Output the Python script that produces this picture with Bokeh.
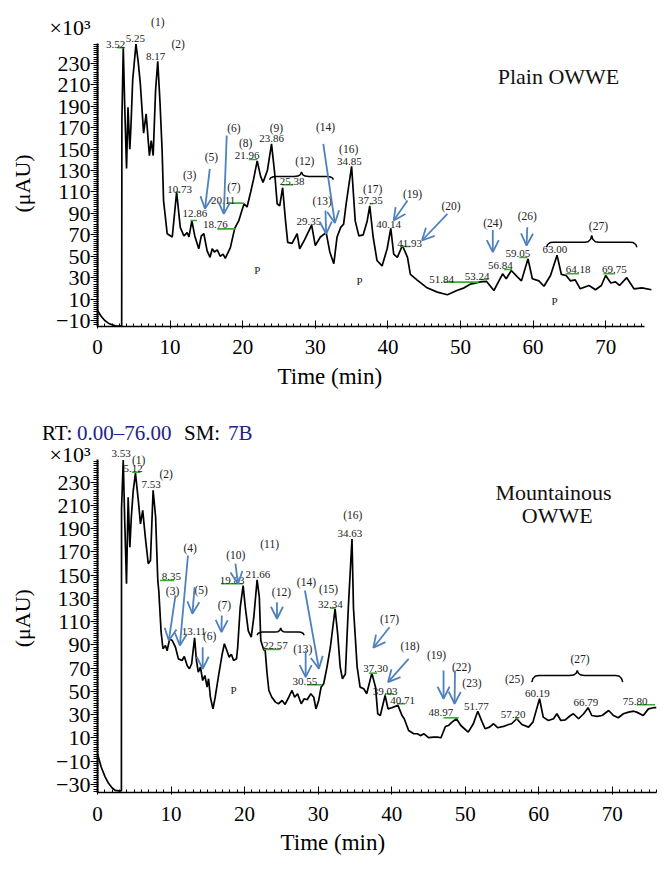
import numpy as np
from bokeh.plotting import figure
from bokeh.layouts import column
from bokeh.models import (Range1d, FixedTicker, Arrow, OpenHead, ColumnDataSource, LinearAxis, Div)
from bokeh.core.properties import value
from bokeh.embed import file_html
from bokeh.resources import INLINE

FONT = "Liberation Serif"
BLUE = "#4f81bd"
GREEN = "#3aaa35"
NAVY = "#22228b"

# ---------------- top panel data (Plain OWWE) ----------------
top_t = [0.0, 0.5, 1.0, 1.5, 2.0, 2.5, 3.0, 3.33, 3.36, 3.55, 3.75, 4.0, 4.2, 4.45, 4.6, 4.85, 5.3, 5.6,
         5.9, 6.35, 6.7, 7.15, 7.4, 7.67, 8.0, 8.3, 8.6, 8.9, 9.1, 9.6, 10.3, 10.9, 11.4, 11.9, 12.35,
         12.6, 13.0, 13.4, 13.95, 14.3, 14.65, 15.1, 15.5, 15.8, 16.1, 16.5, 16.9, 17.3, 17.6, 18.3,
         18.9, 19.45, 19.9, 20.2, 20.6, 21.1, 21.5, 22.0, 22.45, 22.8, 23.4, 23.97, 24.4, 24.75, 25.1,
         25.5, 25.9, 26.2, 26.8, 27.5, 27.85, 28.5, 29.5, 30.0, 30.7, 31.5, 32.0, 32.55, 33.0, 33.5,
         33.9, 34.25, 35.0, 35.5, 36.0, 36.6, 37.15, 37.5, 37.97, 38.5, 39.2, 39.9, 40.4, 40.8, 41.3,
         42.0, 42.7, 43.1, 44.0, 45.4, 46.8, 48.2, 49.5, 50.5, 51.4, 52.75, 53.6, 54.6, 55.3, 55.8,
         56.3, 57.0, 57.8, 58.4, 59.3, 59.9, 60.8, 61.5, 62.4, 63.3, 63.9, 64.55, 65.15, 65.8, 66.5,
         67.7, 68.6, 69.4, 70.0, 70.7, 71.35, 71.9, 72.9, 73.9, 75.0, 76.3]
top_y = [-0.7, -6, -10, -12.5, -14, -15, -15.2, -15.2, 177, 245, 190, 132, 189, 150, 170, 215, 248, 232,
         211, 165, 183, 144, 158, 144, 205, 232, 195, 149, 102, 71, 68, 110, 77, 69, 72,
         68, 83, 69, 57, 69, 71, 55, 49, 57, 54, 56, 50, 52, 48, 58,
         76, 83, 93, 99, 96, 110, 122, 139, 125, 119, 130, 155, 128, 99, 97,
         114, 83, 63, 62, 71, 57, 65, 79, 60, 68, 72, 54, 43, 68, 77,
         80, 99, 134, 83, 69, 70, 83, 97, 68, 46, 41, 57, 76, 52, 49,
         60, 49, 33, 28, 20.5, 16.5, 14, 18, 20.5, 24, 26, 26.5, 18, 27, 33.6,
         29, 36.7, 31, 27, 47.6, 29, 27, 22, 32, 51, 33, 32, 27, 28, 19.6,
         22.7, 18.7, 22.7, 32, 25, 26, 22.7, 30, 19.6, 20.5, 18.7]

top_rt_text = ["3.52", "5.25", "8.17", "10.73", "12.86", "18.76", "20.11", "21.96", "23.86", "25.38",
               "29.35", "34.85", "37.35", "40.14", "41.93", "51.84", "53.24", "56.84", "59.05", "63.00",
               "64.18", "69.75"]
top_rt_x = [2.48, 5.23, 7.99, 11.3, 13.4, 16.25, 17.3, 20.6, 23.97, 26.8,
            29.1, 34.7, 37.6, 40.1, 43.0, 47.4, 52.3, 55.5, 57.9, 63.0, 66.2, 71.2]
top_rt_y = [247.4, 253.6, 236.5, 112.3, 89.6, 79.6, 102, 143.7, 160.3, 119.8,
            82.7, 138.5, 102, 79.6, 62.2, 28.3, 31.4, 41.4, 52.3, 56.3, 37.3, 37.3]

top_id_text = ["(1)", "(2)", "(3)", "(5)", "(6)", "(7)", "(8)", "(9)", "(12)", "(13)", "(14)", "(16)",
               "(17)", "(19)", "(20)", "(24)", "(26)", "(27)"]
top_id_x = [8.3, 11.1, 12.7, 15.7, 18.8, 18.8, 20.4, 24.65, 28.55, 30.95, 31.4, 34.6,
            37.9, 43.4, 48.7, 54.45, 59.2, 69.0]
top_id_y = [268.6, 248.4, 126, 142.5, 169.6, 114.5, 156, 169.6, 139, 102, 170.6, 150,
            112.6, 108.3, 96.7, 81.2, 88, 78.1]

top_p_x = [22.0, 36.1, 62.95]
top_p_y = [36.7, 27.3, 8]

top_green_x0 = [2.75, 10.75, 12.8, 16.5, 17.9, 20.85, 25.4, 37.5, 41.7, 47.7, 52.75, 56.0, 58.1, 64.5, 69.7]
top_green_x1 = [3.7, 11.4, 13.7, 19.0, 20.15, 22.0, 27.0, 38.0, 43.1, 52.5, 53.7, 57.1, 59.2, 66.3, 71.3]
top_green_y = [244.8, 110, 83.4, 75.6, 99.6, 140.3, 116.7, 99, 59.1, 25.8, 28.3, 37.6, 48.8, 33.6, 33.6]

top_arrow_x0 = [15.47, 17.8, 31.1, 31.4, 42.7, 48.2, 54.45, 59.2]
top_arrow_y0 = [131.5, 162.7, 155, 92.7, 102, 89.6, 74.6, 77.1]
top_arrow_x1 = [14.8, 17.4, 32.7, 31.5, 40.8, 44.7, 54.45, 59.1]
top_arrow_y1 = [94.3, 89.6, 81, 71, 83.4, 64.7, 53.9, 60]

top_brace_x0 = [23.7, 61.85]
top_brace_x1 = [32.5, 74.3]
top_brace_y = [124.5, 63.1]
top_brace_tip = [4.0, 6.3]
top_brace_drop = [3.0, 4.7]

# ---------------- bottom panel data (Mountainous OWWE) ----------------
bot_t = [0.0, 0.5, 1.0, 1.5, 2.0, 2.4, 3.0, 3.25, 3.27, 3.5, 3.7, 3.94, 4.17, 4.4, 4.6, 4.85, 5.16, 5.6,
         5.84, 6.15, 6.5, 6.9, 7.2, 7.56, 7.9, 8.2, 8.33, 8.65, 8.9, 9.24, 9.47, 9.8, 10.15, 10.6, 11.0,
         11.5, 11.8, 12.2, 12.5, 12.8, 13.2, 13.45, 13.7, 14.0, 14.3, 14.6, 14.9, 15.1, 15.35, 15.7,
         16.0, 16.5, 16.95, 17.25, 17.6, 17.9, 18.2, 18.5, 18.9, 19.06, 19.4, 19.8, 20.1, 20.5, 20.9,
         21.25, 21.7, 22.0, 22.2, 22.6, 22.8, 23.06, 23.3, 23.7, 24.2, 24.6, 25.1, 25.5, 26.0, 26.45,
         26.8, 27.2, 27.7, 28.1, 28.5, 29.0, 29.4, 29.7, 30.07, 30.4, 30.75, 31.2, 31.66, 32.3, 32.65,
         33.0, 33.3, 33.7, 34.1, 34.6, 34.8, 35.3, 35.7, 36.2, 36.6, 37.3, 37.8, 38.1, 38.45, 39.1,
         39.5, 40.0, 40.85, 41.4, 41.7, 42.3, 43.0, 43.5, 43.9, 44.4, 45.0, 45.7, 46.2, 46.7, 47.3,
         47.7, 48.2, 48.8, 49.4, 50.4, 51.1, 51.7, 52.3, 52.7, 53.3, 53.85, 54.4, 55.2, 55.9, 56.3,
         57.0, 57.7, 58.6, 59.2, 60.1, 60.6, 61.3, 62.0, 62.45, 63.0, 63.6, 64.3, 64.7, 65.4, 66.1,
         66.7, 67.2, 67.9, 68.6, 69.5, 70.15, 70.8, 71.5, 72.2, 72.9, 73.3, 74.2, 74.9, 75.6, 76.0]
bot_y = [-3.6, -15, -23, -29, -33, -35, -35.5, -35.5, 207, 249, 197, 142.6, 217, 174, 200, 222, 237.7, 211,
         194, 205.6, 182.6, 159.8, 162.6, 223, 200, 145, 136.8, 101, 86.7, 89.5, 85, 95, 93.8, 88, 78,
         76.6, 80, 72, 69.5, 73.8, 96, 76.6, 66.6, 70.9, 59.4, 63.7, 53.7, 60.9, 45, 35,
         45, 65, 82, 91, 85, 79.5, 82, 76.6, 78, 88, 122, 141, 122, 102, 96.7,
         113.8, 146, 131, 93.8, 85.8, 85, 65, 50.8, 45, 40.8, 39.4, 42.2, 38.8, 45, 50.8,
         45, 48, 39.4, 43.7, 42.8, 48, 45, 35, 42.2, 53.7, 56.6, 70.9, 88, 121, 99.6,
         70.9, 60.9, 65, 122, 181, 122, 71, 53.7, 52.3, 48, 65.7, 53.7, 30.8, 29.3, 46.5,
         35, 36, 38, 29.3, 26.5, 16.4, 13.6, 13.6, 12, 13.6, 10.2, 10.7, 10.7, 10.2, 19.9,
         20.7, 23.6, 26.5, 20.7, 15, 22.2, 33, 23.6, 17.9, 19.3, 22.2, 18.8, 19.9, 21.6, 22.2,
         26.5, 21.6, 19.3, 23.6, 43.7, 27.9, 25, 26.5, 30.8, 25, 25.6, 29.3, 30.8, 26.5, 30.8,
         36, 29.3, 28.5, 29.3, 33.6, 29.3, 27.4, 30.8, 32.2, 33, 32.2, 29.3, 35, 36, 36]

bot_rt_text = ["3.53", "5.12", "7.53", "8.35", "13.11", "19.83", "21.66", "22.57", "30.55", "32.34",
               "34.63", "37.30", "39.03", "40.71", "48.97", "51.77", "57.20", "60.19", "66.79", "75.80"]
bot_rt_x = [3.2, 4.85, 7.3, 10.05, 13.1, 18.3, 21.8, 24.2, 28.2, 31.65,
            34.3, 37.8, 39.1, 41.5, 46.7, 51.5, 56.5, 59.8, 66.4, 73.1]
bot_rt_y = [254.4, 242, 227.7, 149, 101.6, 145.4, 150.6, 89.5, 58.8, 124.5,
            186, 69.5, 50.2, 42.2, 31.7, 37, 30, 48.5, 40.2, 41.4]

bot_id_text = ["(1)", "(2)", "(3)", "(4)", "(5)", "(6)", "(7)", "(10)", "(11)", "(12)", "(13)", "(14)",
               "(15)", "(16)", "(17)", "(18)", "(19)", "(22)", "(23)", "(25)", "(27)"]
bot_id_x = [5.6, 9.33, 10.2, 12.6, 14.1, 15.26, 17.25, 18.8, 23.4, 25.0, 27.9, 28.4,
            31.4, 34.7, 39.7, 42.5, 46.1, 49.5, 50.9, 56.7, 65.6]
bot_id_y = [248.6, 237, 136.2, 173.5, 136.8, 98, 124, 167.3, 177, 135.3, 86.7, 144.5,
            138.3, 202, 111.9, 88.9, 81.5, 70.9, 57.4, 60.3, 77.5]

bot_p_x = [18.5]
bot_p_y = [50.8]

bot_green_x0 = [4.7, 8.5, 16.8, 22.6, 28.5, 31.65, 36.9, 39.1, 40.7, 47.05, 56.8, 73.3]
bot_green_x1 = [5.85, 10.4, 19.8, 24.9, 30.5, 32.3, 38.0, 40.3, 41.85, 49.1, 57.25, 75.8]
bot_green_y = [238.5, 145.4, 142.6, 86.1, 55.7, 121.6, 65.7, 48, 39.4, 27.3, 26.5, 38.5]

bot_arrow_x0 = [10.6, 12.3, 13.2, 14.3, 16.9, 18.75, 24.4, 28.3, 28.2, 39.7, 42.3, 47.05, 48.6]
bot_arrow_y0 = [132.5, 166.9, 139.7, 88, 115.3, 159.8, 126.7, 85.2, 136.8, 105.2, 78, 68, 68]
bot_arrow_x1 = [9.7, 11.2, 12.9, 14.3, 16.85, 19.1, 24.4, 28.3, 30.1, 37.5, 39.5, 47.05, 48.55]
bot_arrow_y1 = [93.8, 89.5, 116.8, 69.5, 101, 142.6, 112.5, 62.3, 69.5, 87.5, 58, 43.7, 39.4]

bot_brace_x0 = [21.7, 59.05]
bot_brace_x1 = [28.1, 71.4]
bot_brace_y = [101, 63.7]
bot_brace_tip = [3.5, 4.3]
bot_brace_drop = [2.7, 5.7]

y_ticks_top = [-10, 10, 30, 50, 70, 90, 110, 130, 150, 170, 190, 210, 230]
y_ticks_bot = [-30, -10, 10, 30, 50, 70, 90, 110, 130, 150, 170, 190, 210, 230]
x_ticks = [0, 10, 20, 30, 40, 50, 60, 70]

rt_parts = ["RT:", "0.00\u201376.00", "SM:", "7B"]
rt_colors = ["black", NAVY, "black", NAVY]
rt_left = [42, 77, 184, 228]


def brace_path(x0, x1, y, tip, drop):
    e = min(1.0, (x1 - x0) / 8)
    xm = (x0 + x1) / 2
    xs = [x0, x0 + 0.15 * e, x0 + 0.5 * e, x0 + e, xm - e, xm - 0.5 * e, xm - 0.15 * e, xm,
          xm + 0.15 * e, xm + 0.5 * e, xm + e, x1 - e, x1 - 0.5 * e, x1 - 0.15 * e, x1]
    ys = [y - drop, y - 0.45 * drop, y - 0.08 * drop, y, y, y + 0.08 * tip, y + 0.45 * tip, y + tip,
          y + 0.45 * tip, y + 0.08 * tip, y, y, y - 0.08 * drop, y - 0.45 * drop, y - drop]
    return xs, ys


def blank_axis(ax):
    ax.axis_line_color = None
    ax.major_tick_line_color = None
    ax.minor_tick_line_color = None
    ax.major_tick_in = 0
    ax.major_tick_out = 0
    ax.minor_tick_in = 0
    ax.minor_tick_out = 0


def style(p, yticks, ylo, yhi, xhi, x_standoff, x10_tick, mu_tick, time_tick, time_standoff):
    p.xgrid.visible = False
    p.ygrid.visible = False
    p.outline_line_color = None
    p.background_fill_color = "white"
    p.border_fill_color = "white"
    ax = p.xaxis[0]
    ax.ticker = FixedTicker(ticks=x_ticks, minor_ticks=list(range(0, int(xhi) + 1)))
    ax.bounds = (0, xhi)
    ax.major_tick_in = 6
    ax.major_tick_out = 2
    ax.minor_tick_in = 3
    ax.minor_tick_out = 0
    ax.axis_line_width = 1.5
    ax.major_label_standoff = x_standoff
    ax.major_label_text_font = FONT
    ax.major_label_text_font_size = "21px"
    ax.major_label_text_color = "black"

    # y axis: line and ticks only
    ay = p.yaxis[0]
    ay.ticker = FixedTicker(ticks=yticks, minor_ticks=list(range(int(np.floor(ylo / 2) * 2), int(yhi) + 1, 2)))
    ay.bounds = (ylo, yhi)
    ay.major_tick_in = 0
    ay.major_tick_out = 7
    ay.minor_tick_in = 1
    ay.minor_tick_out = 4
    ay.axis_line_width = 2
    ay.major_label_standoff = 0
    ay.major_label_overrides = {t: "" for t in yticks}

    # y tick labels plus the x10^3 multiplier, on a bare axis just outside the ticks
    lab_ticks = yticks + [x10_tick]
    al = LinearAxis(ticker=FixedTicker(ticks=lab_ticks, minor_ticks=[]), bounds=(ylo, x10_tick + 6))
    blank_axis(al)
    al.major_label_standoff = 0
    ov = {t: ("\u2212" + str(-t) if t < 0 else str(t)) for t in yticks}
    ov[x10_tick] = "\u00d710\u00b3"
    al.major_label_overrides = ov
    al.major_label_text_font = FONT
    al.major_label_text_font_size = "22px"
    al.major_label_text_color = "black"
    p.add_layout(al, "left")

    # y title as a rotated label
    amu = LinearAxis(ticker=FixedTicker(ticks=[mu_tick], minor_ticks=[]), bounds=(mu_tick - 10, mu_tick + 10))
    blank_axis(amu)
    amu.major_label_overrides = {mu_tick: "(\u03bcAU)"}
    amu.major_label_orientation = "vertical"
    amu.major_label_standoff = 11
    amu.major_label_text_font = FONT
    amu.major_label_text_font_size = "22px"
    amu.major_label_text_color = "black"
    p.add_layout(amu, "left")

    # x title
    atime = LinearAxis(ticker=FixedTicker(ticks=[time_tick], minor_ticks=[]), bounds=(time_tick - 5, time_tick + 5))
    blank_axis(atime)
    atime.major_label_overrides = {time_tick: "Time (min)"}
    atime.major_label_standoff = time_standoff
    atime.major_label_text_font = FONT
    atime.major_label_text_font_size = "23px"
    atime.major_label_text_color = "black"
    p.add_layout(atime, "below")


def annotate(p, rt_x, rt_y, rt_text, id_x, id_y, id_text, p_x, p_y, gx0, gx1, gy,
             ax0, ay0, ax1, ay1, bx0, bx1, by, btip, bdrop):
    p.segment(x0=gx0, y0=gy, x1=gx1, y1=gy, line_color=GREEN, line_width=1.6)
    p.text(x=rt_x, y=rt_y, text=rt_text, text_font=value(FONT), text_font_size="11px",
           text_align="center", text_baseline="middle", text_color="#222222")
    p.text(x=id_x, y=id_y, text=id_text, text_font=value(FONT), text_font_size="11.5px",
           text_align="center", text_baseline="middle", text_color="#222222")
    p.text(x=p_x, y=p_y, text=["P"] * len(p_x), text_font=value(FONT), text_font_size="11px",
           text_align="center", text_baseline="middle", text_color="#222222")
    src = ColumnDataSource(dict(x0=ax0, y0=ay0, x1=ax1, y1=ay1))
    p.add_layout(Arrow(end=OpenHead(size=12, line_color=BLUE, line_width=1.8), source=src,
                       x_start="x0", y_start="y0", x_end="x1", y_end="y1",
                       line_color=BLUE, line_width=1.8))
    bxs, bys = [], []
    for a, b, c, d, e in zip(bx0, bx1, by, btip, bdrop):
        xs, ys = brace_path(a, b, c, d, e)
        bxs.append(xs)
        bys.append(ys)
    p.multi_line(xs=bxs, ys=bys, line_color="black", line_width=1.5)


# ---------------- top figure ----------------
top = figure(width=671, height=412, x_range=Range1d(0, 77.0), y_range=Range1d(-15.6, 277.6),
             output_backend="svg", toolbar_location=None,
             min_border_left=97, min_border_right=15, min_border_top=12, min_border_bottom=86)
style(top, y_ticks_top, -15.6, 249, 75.4, 11, 264, 118, 32, 7)
top.line(top_t, top_y, line_color="black", line_width=1.7)
annotate(top, top_rt_x, top_rt_y, top_rt_text, top_id_x, top_id_y, top_id_text, top_p_x, top_p_y,
         top_green_x0, top_green_x1, top_green_y, top_arrow_x0, top_arrow_y0, top_arrow_x1, top_arrow_y1,
         top_brace_x0, top_brace_x1, top_brace_y, top_brace_tip, top_brace_drop)
top.text(x=[63.5], y=[217.8], text=["Plain OWWE"], text_font=value(FONT), text_font_size="22px",
         text_align="center", text_baseline="middle", text_color="#111111")

# ---------------- RT / SM line between the panels ----------------
spans = "".join(
    '<span style="position:absolute;left:%dpx;top:11px;color:%s">%s</span>' % (lx, c, t)
    for t, c, lx in zip(rt_parts, rt_colors, rt_left))
strip = Div(text='<div style="position:relative;width:671px;height:29px;font-family:\'%s\';'
                 'font-size:21px;line-height:20px;white-space:nowrap">%s</div>' % (FONT, spans),
            width=671, height=29, margin=0)

# ---------------- bottom figure ----------------
bot = figure(width=671, height=429, x_range=Range1d(0, 76), y_range=Range1d(-36.9, 262.3),
             output_backend="svg", toolbar_location=None,
             min_border_left=97, min_border_right=15, min_border_top=3, min_border_bottom=78)
style(bot, y_ticks_bot, -36.9, 249.5, 76, 12, 256, 113, 32, 6)
bot.line(bot_t, bot_y, line_color="black", line_width=1.7)
annotate(bot, bot_rt_x, bot_rt_y, bot_rt_text, bot_id_x, bot_id_y, bot_id_text, bot_p_x, bot_p_y,
         bot_green_x0, bot_green_x1, bot_green_y, bot_arrow_x0, bot_arrow_y0, bot_arrow_x1, bot_arrow_y1,
         bot_brace_x0, bot_brace_x1, bot_brace_y, bot_brace_tip, bot_brace_drop)
bot.text(x=[62.0, 62.5], y=[221.3, 201.3], text=["Mountainous", "OWWE"], text_font=value(FONT),
         text_font_size="22px", text_align="center", text_baseline="middle", text_color="#111111")

layout = column(top, strip, bot, spacing=0)
open("out.html", "w").write(file_html(layout, INLINE))
